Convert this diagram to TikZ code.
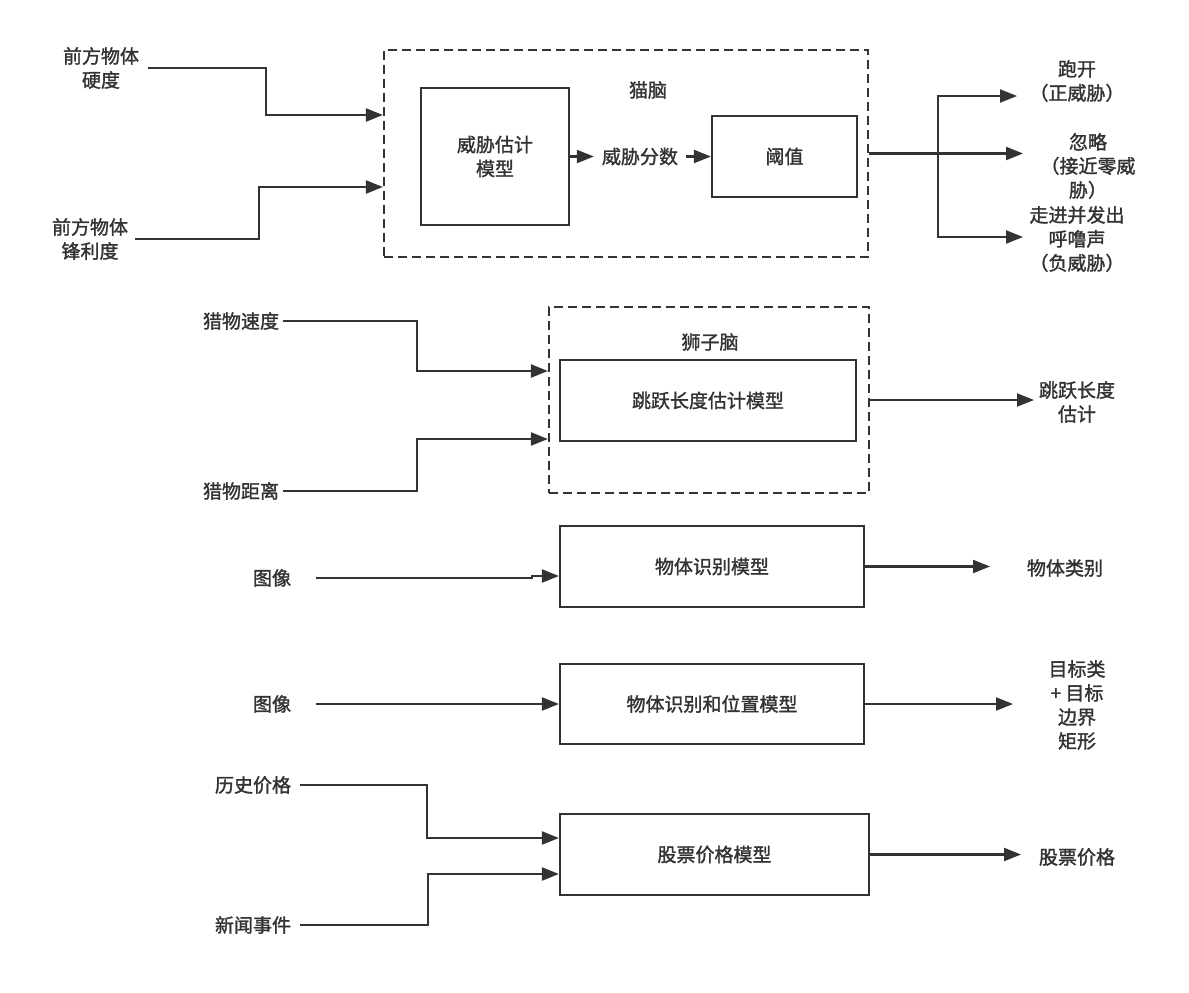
\documentclass[tikz,border=0pt]{standalone}
\usepackage{fontspec}
\setmainfont{Noto Sans CJK SC}[BoldFont=Noto Sans CJK SC, BoldFeatures={FakeBold=1.5}]
\usetikzlibrary{arrows.meta,calc}
\definecolor{ink}{HTML}{333333}
\begin{document}
\begin{tikzpicture}[x=1pt,y=-1pt,
  every node/.style={font=\fontsize{19}{24}\selectfont\bfseries, text=ink},
  box/.style={draw=ink, line width=2.2pt},
  dbox/.style={draw=ink, line width=2.2pt, dash pattern=on 9pt off 5pt},
  ln/.style={draw=ink, line width=2.2pt},
  arr/.style={ln, -{Triangle[length=17pt,width=13pt]}}]
\fill[white] (0,0) rectangle (1189,993);
\useasboundingbox (0,0) rectangle (1189,993);

% ---------- cat brain ----------
\node[dbox, minimum width=484pt, minimum height=207pt] (cat) at (626,153.5) {};
\node (catlbl) at (648,90) {猫脑};
\node[box, minimum width=148pt, minimum height=137pt, align=center] (tem) at (495,156.5) {威胁估计\\模型};
\node[inner xsep=8pt] (score) at (640,156.5) {威胁分数};
\node[box, minimum width=145pt, minimum height=81pt] (thr) at (784.5,156.5) {阈值};
\draw[arr] (tem.east) -- (score.west);
\draw[arr] (score.east) -- (thr.west);

\node[align=center] (in1) at (101,68) {前方物体\\硬度};
\node[align=center] (in2) at (90,239) {前方物体\\锋利度};
\coordinate (c1) at (266,115);
\coordinate (c2) at (259,187);
\draw[arr] ([xshift=5pt]in1.east) -| (c1) -- (cat.west |- c1);
\draw[arr] ([xshift=3pt]in2.east) -| (c2) -- (cat.west |- c2);

\coordinate (br) at (938,153.5);
\coordinate (o1) at (1017,96);
\coordinate (o2) at (1023,153.5);
\coordinate (o3) at (1023,237);
\draw[arr] (cat.east) -- (o2);
\draw[arr] (br) |- (o1);
\draw[arr] (br) |- (o3);
\node[align=center] (t1) at (1077,81) {跑开\\（正威胁）};
\node[align=center] (t2) at (1088,166) {忽略\\（接近零威\\胁）};
\node[align=center] (t3) at (1077,239) {走进并发出\\呼噜声\\（负威胁）};

% ---------- lion brain ----------
\node[dbox, minimum width=320pt, minimum height=186pt] (lion) at (709,400) {};
\node (lionlbl) at (710,342) {狮子脑};
\node[box, minimum width=296pt, minimum height=81pt] (jump) at (708,400.5) {跳跃长度估计模型};
\node (spd) at (241,321) {猎物速度};
\node (dst) at (241,491) {猎物距离};
\coordinate (c3) at (417,371);
\coordinate (c4) at (417,439);
\draw[arr] (spd.east) -| (c3) -- (lion.west |- c3);
\draw[arr] (dst.east) -| (c4) -- (lion.west |- c4);
\coordinate (o4) at (1034,400);
\draw[arr] (lion.east) -- (o4);
\node[align=center] (t4) at (1077,402) {跳跃长度\\估计};

% ---------- object recognition ----------
\node[box, minimum width=304pt, minimum height=81pt] (rec) at (712,566.5) {物体识别模型};
\node (img1) at (272,578) {图像};
\coordinate (c5) at (532,578);
\draw[arr] ([xshift=21pt]img1.east) -- (c5) |- ([yshift=-9.5pt]rec.west);
\coordinate (o5) at (990,566.5);
\draw[arr] (rec.east) -- (o5);
\node (t5) at (1065,568) {物体类别};

% ---------- object recognition & position ----------
\node[box, minimum width=304pt, minimum height=80pt] (recpos) at (712,704) {物体识别和位置模型};
\node (img2) at (272,704) {图像};
\draw[arr] ([xshift=21pt]img2.east) -- (recpos.west);
\coordinate (o6) at (1013,704);
\draw[arr] (recpos.east) -- (o6);
\node[align=center] (t6) at (1077,705) {目标类\\+ 目标\\边界\\矩形};

% ---------- stock ----------
\node[box, minimum width=309pt, minimum height=81pt] (stock) at (714.5,854.5) {股票价格模型};
\node (hist) at (253,785) {历史价格};
\node (news) at (253,925) {新闻事件};
\coordinate (c7) at (427,838);
\coordinate (c8) at (428,874);
\draw[arr] ([xshift=5pt]hist.east) -| (c7) -- (stock.west |- c7);
\draw[arr] ([xshift=5pt]news.east) -| (c8) -- (stock.west |- c8);
\coordinate (o7) at (1021,854.5);
\draw[arr] (stock.east) -- (o7);
\node (t7) at (1077,857) {股票价格};
\end{tikzpicture}
\end{document}
